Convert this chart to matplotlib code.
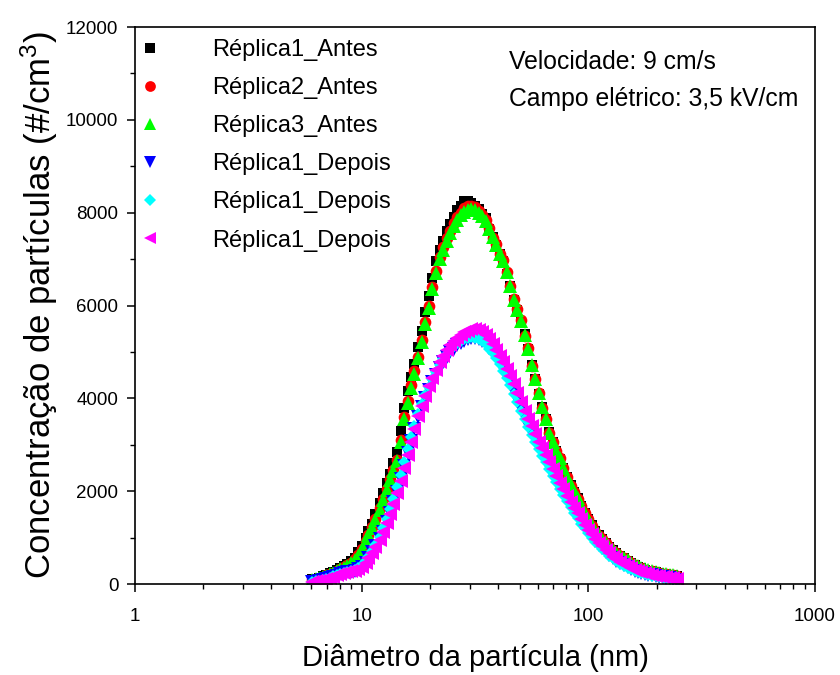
import matplotlib
matplotlib.use('Agg')
import matplotlib.pyplot as plt
from matplotlib.ticker import LogLocator, MultipleLocator, NullFormatter

# ==========================
# Data
# ==========================
diam = [6.04, 6.26, 6.49, 6.73, 6.98, 7.23, 7.50, 7.77, 8.06, 8.35, 8.66, 8.98, 9.31, 9.65,
        10.0, 10.4, 10.7, 11.1, 11.5, 12.0, 12.4, 12.9, 13.3, 13.8,
        14.3, 14.9, 15.4, 16.0, 16.5, 17.1, 17.8, 18.4, 19.1, 19.8,
        20.5, 21.3, 22.1, 22.9, 23.7, 24.6, 25.5, 26.4, 27.4, 28.4,
        29.4, 30.5, 31.6, 32.8, 34.0, 35.2, 36.5, 37.9, 39.2, 40.7,
        42.2, 43.7, 45.3, 47.0, 48.7, 50.5, 52.3, 54.2, 56.2, 58.3,
        60.4, 62.6, 64.9, 67.3, 69.8, 72.3, 75.0, 77.7, 80.6, 83.5,
        86.6, 89.8, 93.1, 96.5, 100, 104, 107, 111, 115, 120,
        124, 129, 133, 138, 143, 149, 154, 160, 165, 171,
        178, 184, 191, 198, 205, 213, 221, 229, 237, 246]

rep1_antes = [100, 115, 140, 165, 195, 230, 260, 300, 340, 380, 430, 490, 570, 680,
              820, 990, 1140, 1300, 1500, 1740, 1950, 2180, 2380, 2600,
              2850, 3300, 3800, 4150, 4450, 4750, 5100, 5450, 5850, 6200,
              6600, 6950, 7200, 7400, 7600, 7750, 7900, 8050, 8150, 8250,
              8250, 8200, 8150, 8080, 7980, 7880, 7650, 7480, 7300, 7120,
              6950, 6680, 6420, 6120, 5900, 5650, 5380, 5060, 4720, 4420,
              4100, 3820, 3560, 3270, 3060, 2870, 2700, 2500, 2310, 2130,
              1990, 1850, 1690, 1540, 1400, 1270, 1140, 1050, 960, 880,
              800, 730, 670, 610, 560, 500, 450, 410, 370, 340,
              310, 290, 270, 250, 235, 220, 205, 195, 185, 170]

rep2_antes = [85, 105, 125, 150, 185, 215, 245, 285, 325, 365, 400, 455, 530, 620,
              760, 930, 1060, 1220, 1400, 1630, 1830, 2050, 2270, 2460,
              2680, 3100, 3600, 3950, 4280, 4580, 4900, 5250, 5650, 6000,
              6400, 6750, 7050, 7250, 7450, 7600, 7780, 7900, 8000, 8100,
              8150, 8150, 8120, 8030, 7950, 7850, 7680, 7460, 7320, 7100,
              6980, 6720, 6420, 6130, 5920, 5680, 5350, 5080, 4700, 4420,
              4120, 3800, 3560, 3260, 3050, 2860, 2710, 2510, 2300, 2120,
              1980, 1830, 1680, 1530, 1400, 1260, 1130, 1040, 960, 880,
              800, 720, 660, 610, 560, 500, 450, 410, 370, 340,
              310, 290, 270, 250, 235, 220, 205, 195, 185, 170]

rep3_antes = [80, 100, 120, 150, 180, 210, 240, 280, 320, 355, 395, 450, 520, 610,
              750, 910, 1050, 1200, 1380, 1600, 1800, 2020, 2230, 2430,
              2640, 3050, 3550, 3900, 4220, 4530, 4870, 5220, 5600, 5950,
              6350, 6700, 7000, 7200, 7400, 7560, 7720, 7850, 7950, 8020,
              8060, 8080, 8050, 8000, 7920, 7830, 7650, 7470, 7310, 7120,
              6960, 6730, 6430, 6120, 5910, 5660, 5370, 5070, 4720, 4420,
              4110, 3820, 3560, 3260, 3060, 2870, 2710, 2510, 2310, 2130,
              1990, 1850, 1690, 1540, 1400, 1270, 1140, 1050, 960, 880,
              800, 730, 670, 610, 560, 510, 460, 420, 380, 350,
              320, 300, 275, 255, 240, 225, 210, 200, 190, 180]

rep1_depois = [35, 50, 65, 85, 105, 130, 155, 180, 205, 230, 250, 265, 285, 315,
               370, 460, 560, 680, 810, 970, 1130, 1340, 1530, 1760,
               1990, 2260, 2540, 2830, 3080, 3340, 3600, 3810, 4010, 4190,
               4350, 4510, 4650, 4780, 4890, 4990, 5070, 5140, 5190, 5240,
               5280, 5300, 5300, 5280, 5240, 5170, 5090, 4990, 4880, 4760,
               4620, 4480, 4330, 4140, 3960, 3770, 3580, 3410, 3260, 3110,
               2950, 2800, 2660, 2510, 2360, 2220, 2080, 1940, 1810, 1680,
               1560, 1440, 1320, 1210, 1110, 1010, 920, 840, 770, 690,
               620, 550, 500, 450, 400, 360, 320, 290, 260, 240,
               220, 200, 185, 170, 155, 145, 135, 125, 110, 95]

rep2_depois = [45, 60, 75, 95, 115, 140, 165, 190, 215, 240, 260, 280, 305, 345,
               400, 490, 590, 720, 850, 1020, 1200, 1410, 1610, 1840,
               2080, 2350, 2630, 2910, 3160, 3410, 3660, 3870, 4070, 4250,
               4410, 4570, 4710, 4840, 4950, 5050, 5130, 5190, 5240, 5280,
               5310, 5320, 5310, 5280, 5230, 5160, 5070, 4970, 4860, 4730,
               4590, 4440, 4290, 4100, 3920, 3730, 3550, 3380, 3220, 3070,
               2910, 2760, 2620, 2480, 2330, 2190, 2050, 1920, 1780, 1660,
               1540, 1420, 1300, 1200, 1100, 1000, 910, 830, 760, 680,
               610, 550, 490, 440, 390, 350, 315, 285, 255, 235,
               215, 195, 180, 165, 150, 140, 130, 120, 105, 90]

rep3_depois = [40, 55, 70, 90, 110, 135, 160, 185, 210, 235, 255, 270, 290, 325,
               375, 460, 555, 670, 790, 950, 1110, 1310, 1500, 1730,
               1960, 2220, 2500, 2780, 3050, 3330, 3610, 3840, 4060, 4260,
               4440, 4620, 4780, 4920, 5040, 5150, 5240, 5310, 5370, 5420,
               5460, 5490, 5500, 5480, 5430, 5360, 5270, 5160, 5050, 4920,
               4780, 4640, 4490, 4300, 4120, 3920, 3730, 3550, 3400, 3240,
               3070, 2920, 2770, 2620, 2470, 2320, 2180, 2040, 1900, 1770,
               1640, 1520, 1400, 1280, 1170, 1070, 980, 890, 810, 730,
               660, 590, 530, 480, 430, 380, 340, 310, 280, 255,
               235, 215, 195, 180, 165, 155, 145, 135, 120, 105]

labels = ['Réplica1_Antes', 'Réplica2_Antes', 'Réplica3_Antes',
          'Réplica1_Depois', 'Réplica1_Depois', 'Réplica1_Depois']
series = [rep1_antes, rep2_antes, rep3_antes, rep1_depois, rep2_depois, rep3_depois]
colors = ['#000000', '#ff0000', '#00ff00', '#0000ff', '#00ffff', '#ff00ff']
markers = ['s', 'o', '^', 'v', 'D', '<']
sizes = [7.8, 8.4, 9.4, 9.4, 6.6, 9.4]

# ==========================
# Figure
# ==========================
plt.rcParams['font.family'] = ['Liberation Sans', 'DejaVu Sans']
plt.rcParams['mathtext.fontset'] = 'custom'
plt.rcParams['mathtext.rm'] = 'Liberation Sans'
plt.rcParams['mathtext.it'] = 'Liberation Sans:italic'

fig = plt.figure(figsize=(8.4, 6.75), dpi=100)
ax = fig.add_axes([0.1607, 0.1348, 0.8095, 0.8252])

for vals, lab, c, m, s in zip(series, labels, colors, markers, sizes):
    ax.plot(diam, vals, linestyle='none', marker=m, ms=s, color=c,
            mew=0, label=lab)

ax.set_xscale('log')
ax.set_xlim(1, 1000)
ax.set_ylim(0, 12000)
ax.set_xticks([1, 10, 100, 1000])
ax.set_xticklabels(['1', '10', '100', '1000'])
ax.xaxis.set_minor_locator(LogLocator(base=10, subs=range(2, 10)))
ax.xaxis.set_minor_formatter(NullFormatter())
ax.yaxis.set_major_locator(MultipleLocator(2000))
ax.yaxis.set_minor_locator(MultipleLocator(1000))

ax.tick_params(which='major', direction='out', length=6, width=1.1,
               labelsize=13.5)
ax.tick_params(axis='x', which='major', pad=11)
ax.tick_params(axis='y', which='major', pad=6)
ax.tick_params(which='minor', direction='out', length=3.5, width=1.0)
for sp in ax.spines.values():
    sp.set_linewidth(1.2)

ax.set_xlabel('Diâmetro da partícula (nm)', fontsize=21, labelpad=14)
ax.set_ylabel('Concentração de partículas (#/cm$^3$)', fontsize=25, labelpad=4)

ax.legend(loc='upper left', bbox_to_anchor=(0.004, 0.978), frameon=False,
          fontsize=17, handlelength=1.0, handletextpad=2.15,
          labelspacing=0.68, borderpad=0, borderaxespad=0, markerscale=0.92)

ax.text(0.55, 0.958, 'Velocidade: 9 cm/s\nCampo elétrico: 3,5 kV/cm',
        transform=ax.transAxes, ha='left', va='top', fontsize=17.8,
        linespacing=1.65)

fig.savefig('out.png', dpi=100)
